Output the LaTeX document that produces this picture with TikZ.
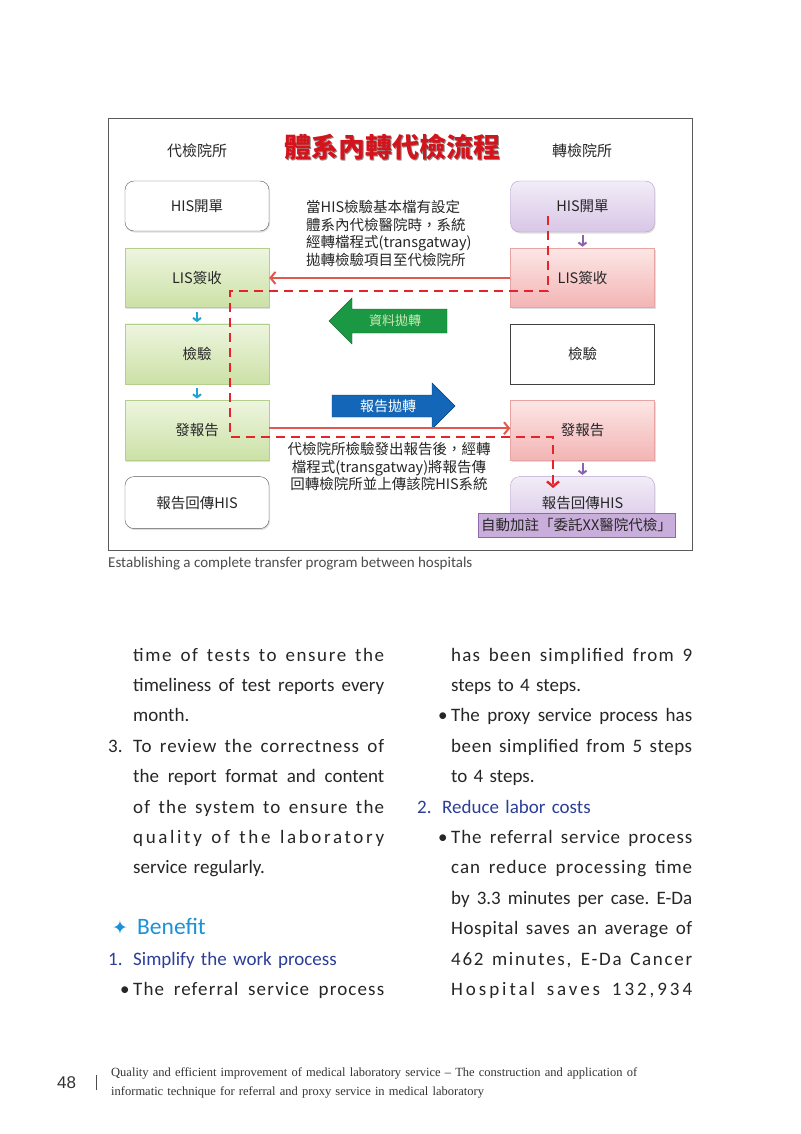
\documentclass[tikz,border=0pt]{standalone}
\usepackage{fontspec}
\setmainfont{Carlito}
\newfontfamily\cjk{Noto Sans CJK TC}
\newfontfamily\dingfont{DejaVu Sans}
\newfontfamily\footfont{Liberation Serif}
\newfontfamily\pagefont{Liberation Sans}
\usetikzlibrary{arrows.meta,calc,positioning,shadows}
\setlength{\parindent}{0pt}

\definecolor{greentop}{HTML}{EEF5DF}
\definecolor{greenbot}{HTML}{CBE1A6}
\definecolor{greenline}{HTML}{B4CF8C}
\definecolor{pinktop}{HTML}{FDE6E6}
\definecolor{pinkbot}{HTML}{F3B4B4}
\definecolor{pinkline}{HTML}{E8A3A3}
\definecolor{lilactop}{HTML}{F2ECF7}
\definecolor{lilacbot}{HTML}{D8C6E6}
\definecolor{lilacline}{HTML}{B7A0CE}
\definecolor{tagfill}{HTML}{C9ADDA}
\definecolor{tagline}{HTML}{8D69AC}
\definecolor{flowred}{HTML}{E2584E}
\definecolor{dashred}{HTML}{E8222B}
\definecolor{titlered}{HTML}{D3141C}
\definecolor{stepcyan}{HTML}{1FA3D1}
\definecolor{steppurple}{HTML}{8B62B2}
\definecolor{xfergreen}{HTML}{1B9843}
\definecolor{xferpale}{HTML}{CDEBB8}
\definecolor{xferblue}{HTML}{1467B8}
\definecolor{benefitblue}{HTML}{1C92D6}
\definecolor{headblue}{HTML}{2B3E98}
\definecolor{framegray}{HTML}{5A5A5A}

% justified line: spaces stretch to fill the given width
\newcommand{\jl}[2]{\leavevmode\hbox to #1{\spaceskip=.226em plus 1fil\relax\xspaceskip=\spaceskip #2}}
\newcommand{\jls}[3]{{\addfontfeature{LetterSpace=#2}\jl{#1}{#3}}}
\newcommand{\hang}[2]{\leavevmode\llap{\makebox[#1][l]{#2}}}

\begin{document}
\begin{tikzpicture}[x=1pt, y=-1pt, >=Latex,
    labbox/.style={minimum width=144, inner sep=0, font=\cjk\fontsize{14.5}{14.5}\selectfont, text=black!85},
    softshadow/.style={drop shadow={shadow xshift=1pt, shadow yshift=-1.5pt, opacity=0.25}},
    whitebox/.style={labbox, draw=black!65, fill=white, rounded corners=9, softshadow},
    greenbox/.style={labbox, draw=greenline, top color=greentop, bottom color=greenbot, softshadow},
    pinkbox/.style={labbox, draw=pinkline, top color=pinktop, bottom color=pinkbot, softshadow},
    lilacbox/.style={labbox, draw=lilacline, top color=lilactop, bottom color=lilacbot, rounded corners=9, softshadow},
    plainbox/.style={labbox, draw=black!75, fill=white},
    tagbox/.style={labbox, draw=tagline, fill=tagfill, minimum width=197, minimum height=24},
    hdr/.style={font=\cjk\fontsize{15}{15}\selectfont, text=black!85},
    titletext/.style={font=\cjk\bfseries\fontsize{27}{27}\selectfont},
    note/.style={font=\cjk\fontsize{14.5}{17.6}\selectfont, inner sep=0, text=black!85},
    cyanstep/.style={stepcyan, line width=2pt, -{Straight Barb[length=3pt,width=8pt]}, shorten <=4pt, shorten >=1.5pt},
    purplestep/.style={steppurple, line width=2pt, -{Straight Barb[length=3pt,width=8pt]}, shorten <=3pt, shorten >=1.5pt},
    flowarrow/.style={flowred, line width=2pt, -{Straight Barb[length=5pt,width=12pt]}},
    dashflow/.style={dashred, line width=2.4pt, dash pattern=on 9pt off 6pt, -{Straight Barb[length=5pt,width=12pt]}},
    bodytext/.style={font=\fontsize{19}{30.4}\selectfont, text=black!85, text width=262, align=left, inner sep=0}]

  \useasboundingbox (0,0) rectangle (800,1134);
  \fill[white] (0,0) rectangle (800,1134);

  % diagram frame and headings
  \draw[framegray, line width=1pt] (108,119) rectangle (692,550);
  \node[hdr] (hdrL) at (197,151) {代檢院所};
  \node[hdr] (hdrR) at (582,151) {轉檢院所};
  \node[titletext, text=black!45] (titleshade) at (393.5,148.5) {體系內轉代檢流程};
  \node[titletext, text=titlered] (title) at (392,147) {體系內轉代檢流程};

  % proxy side
  \node[whitebox, minimum height=50] (lhis) at (197,206) {HIS開單};
  \node[greenbox, minimum height=59, below=17pt of lhis] (llis) {LIS簽收};
  \node[greenbox, minimum height=60, below=16pt of llis] (ltest) {檢驗};
  \node[greenbox, minimum height=60, below=16pt of ltest] (lrep) {發報告};
  \node[whitebox, minimum height=52, below=16pt of lrep] (lret) {報告回傳HIS};

  % referral side
  \node[lilacbox, minimum height=51] (rhis) at (582.5,206.5) {HIS開單};
  \node[pinkbox, minimum height=59, below=16pt of rhis] (rlis) {LIS簽收};
  \node[plainbox, minimum height=60, below=16pt of rlis] (rtest) {檢驗};
  \node[pinkbox, minimum height=60, below=16pt of rtest] (rrep) {發報告};
  \node[lilacbox, minimum height=52, below=16pt of rrep] (rret) {報告回傳HIS};
  \node[tagbox] (tag) at (576.5,525) {自動加註「委託XX醫院代檢」};

  \draw[cyanstep] (llis) -- (ltest);
  \draw[cyanstep] (ltest) -- (lrep);
  \draw[purplestep] (rhis) -- (rlis);
  \draw[purplestep] (rrep) -- (rret);

  % transfer arrows
  \filldraw[fill=xfergreen, draw=xfergreen!70!black] (447,309) -- (352,309) -- (352,298) -- (329,321) -- (352,344) -- (352,333) -- (447,333) -- cycle;
  \node[font=\cjk\fontsize{13}{13}\selectfont, text=xferpale] (datalbl) at (395,321) {資料拋轉};
  \filldraw[fill=xferblue, draw=xferblue!60!black] (332,395) -- (432,395) -- (432,383) -- (455,406) -- (432,429) -- (432,417) -- (332,417) -- cycle;
  \node[font=\cjk\fontsize{14}{14}\selectfont, text=white] (replbl) at (388,406) {報告拋轉};

  \node[note, anchor=base west, text width=200, align=left] (noteA) at (306,212.5)
    {當HIS檢驗基本檔有設定\\體系內代檢醫院時，系統\\經轉檔程式(transgatway)\\拋轉檢驗項目至代檢院所};
  \node[note, anchor=base, text width=230, align=center] (noteB) at (389,454.5)
    {代檢院所檢驗發出報告後，經轉\\檔程式(transgatway)將報告傳\\回轉檢院所並上傳該院HIS系統};

  \draw[flowarrow] (rlis.west) -- (llis.east);
  \draw[flowarrow] ([yshift=2pt]lrep.east) -- ([yshift=2pt]rrep.west);

  \coordinate (dtop) at (548,216);
  \coordinate (dturnA) at (230,291);
  \coordinate (dturnB) at (230,437);
  \coordinate (dend) at (553,488);
  \draw[dashflow] (dtop) |- (dturnA) -- (dturnB) -| (dend);

  \node[anchor=base west, inner sep=0, font=\fontsize{15}{15}\selectfont, text=black!70] (caption) at (108,567)
    {Establishing a complete transfer program between hospitals};

  % body text
  \node[bodytext, anchor=base west] (leftcol) at (133,661) {%
    \jls{251pt}{8.5}{time of tests to ensure the}\\
    \jl{251pt}{timeliness of test reports every}\\
    month.\\
    \hang{25pt}{3.}\jls{251pt}{5}{To review the correctness of}\\
    \jl{251pt}{the report format and content}\\
    \jls{251pt}{6.5}{of the system to ensure the}\\
    \jls{251pt}{14}{quality of the laboratory}\\
    service regularly.\\
    \mbox{}\\
    \hspace*{4pt}\llap{\makebox[25pt][l]{\color{benefitblue}\dingfont\fontsize{19}{19}\selectfont ✦}}{\color{benefitblue}\fontsize{23.5}{30.4}\selectfont Benefit}\\
    \leavevmode{\color{headblue}\llap{\makebox[25pt][l]{1.}}Simplify the work process}\\
    \hang{13pt}{\textbullet}\jls{251pt}{6}{The referral service process}};
  \node[bodytext, anchor=base west] (rightcol) at (451,661) {%
    \jls{241pt}{6}{has been simplified from 9}\\
    steps to 4 steps.\\
    \hang{13pt}{\textbullet}\jl{241pt}{The proxy service process has}\\
    \jls{241pt}{3}{been simplified from 5 steps}\\
    to 4 steps.\\
    \hspace*{-9pt}{\color{headblue}\llap{\makebox[25pt][l]{2.}}Reduce labor costs}\\
    \hang{13pt}{\textbullet}\jls{241pt}{4.5}{The referral service process}\\
    \jls{241pt}{5}{can reduce processing time}\\
    \jl{241pt}{by 3.3 minutes per case. E-Da}\\
    \jls{241pt}{3}{Hospital saves an average of}\\
    \jls{241pt}{9}{462 minutes, E-Da Cancer}\\
    \jls{241pt}{15.5}{Hospital saves 132,934}};

  % footer
  \node[anchor=base west, inner sep=0, font=\pagefont\fontsize{17}{17}\selectfont, text=black!80] (pageno) at (57,1088) {48};
  \draw[black!70, line width=0.8pt] (96,1075) -- (96,1090);
  \node[anchor=base west, inner sep=0, font=\footfont\fontsize{12.5}{19}\selectfont, text width=600, align=left, text=black!80] (footer) at (111,1076)
    {Quality and efficient improvement of medical laboratory service – The construction and application of\\informatic technique for referral and proxy service in medical laboratory};
\end{tikzpicture}
\end{document}
